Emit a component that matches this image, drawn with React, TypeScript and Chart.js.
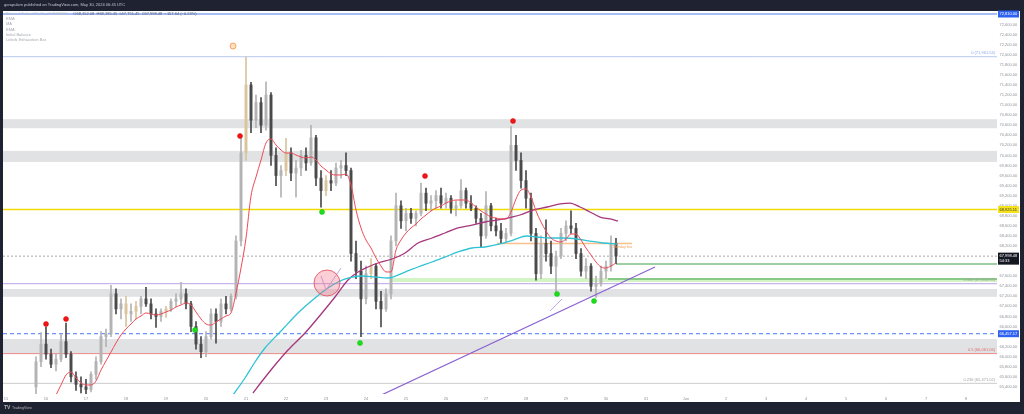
import { useEffect, useRef } from "react";
import { Chart, registerables } from "chart.js";

Chart.register(...registerables);

// ---------- axis labels ----------
const dayLabels = ["15", "16", "17", "18", "19", "20", "21", "22", "23", "24", "25", "26", "27", "28", "29", "30", "31", "Jun", "2", "3", "4", "5", "6", "7", "8"];
const priceTicks = [65400, 65600, 65800, 66000, 66200, 66600, 66800, 67000, 67200, 67400, 67600, 68200, 68400, 68600, 68800, 69000, 69200, 69400, 69600, 69800, 70000, 70200, 70400, 70600, 70800, 71000, 71200, 71400, 71600, 71800, 72000, 72200, 72400, 72600];

// ---------- candles (3h bars from May 15 18:00, x in days since May 15) ----------
const firstCandleDay = 0.75;
const candleStepDays = 0.125;
const opens = [65400, 65900, 66250, 66050, 65850, 65950, 66300, 66050, 65600, 65450, 65400, 65350, 65650, 65900, 66400, 66450, 67250, 66950, 67050, 66850, 66900, 67000, 67150, 67050, 66850, 66800, 66900, 66950, 67100, 67150, 67250, 67050, 66600, 66250, 66100, 66400, 66850, 66700, 67050, 66950, 67200, 68300, 70050, 71400, 70700, 71050, 70600, 71200, 70000, 69600, 69700, 70050, 69650, 69750, 70000, 69850, 70350, 69550, 69300, 69500, 69450, 69750, 69800, 69700, 68050, 67700, 67150, 67650, 67800, 67100, 66950, 67250, 68300, 69000, 68700, 68850, 68750, 68850, 69250, 69050, 69100, 69200, 69050, 69150, 68950, 69000, 69300, 69050, 68950, 68750, 68400, 69000, 68600, 68500, 68350, 68450, 70200, 69900, 69500, 69150, 68450, 67650, 68250, 68050, 67800, 68000, 68450, 68600, 68550, 68050, 67700, 67800, 67400, 67450, 67700, 67800, 68250];
const highs = [66000, 66480, 66590, 66150, 66050, 66450, 66670, 66100, 65700, 65600, 65550, 65700, 66000, 66500, 66550, 67420, 67350, 67150, 67200, 67050, 67100, 67200, 67380, 67150, 66950, 66950, 67000, 67150, 67250, 67480, 67350, 67100, 66700, 66400, 66500, 66950, 66950, 67150, 67200, 67250, 68400, 70350, 71960, 71450, 71200, 71150, 71460, 71250, 70150, 69800, 70340, 70150, 69900, 70100, 70150, 70600, 70400, 69700, 69600, 69700, 69850, 69900, 70050, 69750, 68300, 67900, 67800, 67950, 67850, 67300, 67350, 68400, 69250, 69100, 68950, 68950, 68900, 69450, 69350, 69200, 69300, 69350, 69250, 69200, 69100, 69520, 69350, 69200, 69000, 68850, 69280, 69050, 68750, 68650, 68550, 70580, 70400, 70050, 69700, 69250, 68550, 68400, 68720, 68300, 68100, 68550, 68700, 68900, 68650, 68150, 67950, 67850, 67600, 67800, 67900, 68400, 68350];
const lows = [65250, 65800, 65950, 65780, 65720, 65900, 65980, 65500, 65330, 65280, 65250, 65300, 65550, 65850, 66200, 66400, 66850, 66750, 66600, 66700, 66750, 66850, 67000, 66750, 66580, 66700, 66780, 66900, 67000, 67050, 66950, 66500, 66150, 65980, 66000, 66350, 66270, 66600, 66850, 66900, 67150, 68200, 69900, 70450, 70550, 70450, 70500, 69800, 69400, 69170, 69600, 69500, 69170, 69600, 69700, 69800, 69400, 68970, 69200, 69300, 69400, 69550, 69600, 67900, 67550, 66400, 67050, 67550, 66950, 66590, 66900, 67150, 68200, 68550, 68500, 68650, 68600, 68800, 68900, 68900, 68950, 68950, 68950, 68850, 68800, 68950, 68950, 68900, 68650, 68180, 68350, 68500, 68400, 68260, 68280, 68400, 69700, 69350, 68950, 68300, 67520, 67550, 67900, 67650, 67260, 67950, 68300, 68450, 67950, 67600, 67550, 67300, 67180, 67400, 67550, 67700, 67850];
const closes = [65900, 66250, 66050, 65850, 65950, 66300, 66050, 65600, 65450, 65400, 65350, 65650, 65900, 66400, 66450, 67250, 66950, 67050, 66850, 66900, 67000, 67150, 67050, 66850, 66800, 66900, 66950, 67100, 67150, 67250, 67050, 66600, 66250, 66100, 66400, 66850, 66700, 67050, 66950, 67200, 68300, 70050, 71400, 70700, 71050, 70600, 71200, 70000, 69600, 69700, 70050, 69650, 69750, 70000, 69850, 70350, 69550, 69300, 69500, 69450, 69750, 69800, 69700, 68050, 67700, 67150, 67650, 67800, 67100, 66950, 67250, 68300, 69000, 68700, 68850, 68750, 68850, 69250, 69050, 69100, 69200, 69050, 69150, 68950, 69000, 69300, 69050, 68950, 68750, 68400, 69000, 68600, 68500, 68350, 68450, 70200, 69900, 69500, 69150, 68450, 67650, 68250, 68050, 67800, 68000, 68450, 68600, 68550, 68050, 67700, 67800, 67400, 67450, 67700, 67800, 68250, 67998.48];
const exhaustionCandles = [18, 20, 26, 42, 50, 58, 67];

// ---------- moving averages ----------
const emaFast = [null, null, null, null, 65240, 65438, 65637, 65696, 65577, 65478, 65438, 65438, 65517, 65736, 65915, 66094, 66273, 66432, 66551, 66650, 66750, 66809, 66869, 66849, 66829, 66849, 66889, 66928, 66988, 67028, 67068, 67028, 66889, 66750, 66650, 66630, 66690, 66750, 66809, 66869, 67266, 67763, 68360, 69193, 69571, 69909, 70247, 70326, 70207, 70108, 70048, 70048, 70008, 69968, 69949, 69968, 69909, 69790, 69710, 69631, 69611, 69611, 69631, 69412, 68915, 68558, 68319, 68160, 67962, 67803, 67684, 67684, 68121, 68319, 68459, 68558, 68637, 68737, 68816, 68896, 68955, 68995, 69054, 69094, 69114, 69114, 69114, 69054, 68975, 68896, 68836, 68776, 68757, 68737, 68737, 68876, 69134, 69313, 69333, 69174, 68896, 68677, 68498, 68359, 68299, 68279, 68339, 68438, 68438, 68319, 68160, 68021, 67882, 67783, 67763, 67803, 67862];
const cyanDays = [5.675, 5.975, 6.225, 6.475, 6.9, 7.3, 7.725, 8.05, 8.3, 8.55, 8.9, 9.225, 9.55, 9.975, 10.3, 10.65, 10.975, 11.3, 11.65, 11.975, 12.35, 12.675, 13.025, 13.275, 13.6, 13.925, 14.275, 14.6, 14.925, 15.275];
const cyanValues = [65239, 65577, 65895, 66173, 66531, 66869, 67167, 67365, 67485, 67564, 67604, 67584, 67564, 67683, 67783, 67882, 67981, 68081, 68160, 68180, 68240, 68319, 68399, 68379, 68359, 68359, 68339, 68299, 68260, 68240];
const slowDays = [6.175, 6.425, 6.725, 7.05, 7.475, 7.9, 8.225, 8.55, 8.8, 9.05, 9.3, 9.65, 9.975, 10.3, 10.65, 10.975, 11.3, 11.65, 11.975, 12.3, 12.65, 12.85, 13.175, 13.525, 13.85, 14.1, 14.35, 14.6, 14.85, 15.1, 15.3];
const slowValues = [65279, 65537, 65835, 66134, 66471, 66869, 67187, 67524, 67683, 67783, 67862, 67942, 68061, 68260, 68359, 68458, 68558, 68617, 68677, 68717, 68776, 68816, 68915, 68975, 69035, 69054, 68975, 68876, 68776, 68737, 68697];

// ---------- exhaustion markers ----------
const redDotDays = [1.0, 1.5, 5.85, 10.475, 12.675];
const redDotPrices = [66650, 66749, 70386, 69591, 70684];
const greenDotDays = [4.725, 7.9, 8.85, 13.775, 14.7];
const greenDotPrices = [66531, 68876, 66273, 67246, 67107];

// ---------- levels, zones, drawings ----------
const topLevel = 72810;
const fibZero = 71961.54;
const fib382 = 67450.53;
const fibHalf = 66061.06;
const fibLow = 65471.02;
const yellowLevel = 68925.11;
const lastPrice = 67998.48;
const blueDashedLevel = 66457.17;
const zoneLows = [70540, 69870, 67190, 66055];
const zoneHighs = [70720, 70090, 67345, 66350];
const greenZone = [67485, 67564];
const greenZoneStartDay = 9.6;
const greenLines = [67842, 67544];
const greenLineStartDays = [15.25, 15.05];
const mondayLow = 68250;
const mondayLowDays = [12.275, 15.65];
const trendDays = [9.225, 16.225];
const trendPrices = [65180, 67783];
const circleDay = 8.025;
const circlePrice = 67465;
const vMarkDays = [7.875, 8.0, 8.375];
const vMarkPrices = [67604, 67326, 67763];
const arrowDays = [13.6, 13.9];
const arrowPrices = [66909, 67147];
const eventDay = 5.675;
const eventPrice = 72174;

const X_MIN = -0.075;
const X_MAX = 24.775;
const Y_MIN = 65259;
const Y_MAX = 72850;

const FONT = '"Liberation Sans", Arial, sans-serif';
const fmt = (v: number) => v.toLocaleString("en-US", { minimumFractionDigits: 2, maximumFractionDigits: 2 });

const candleDays = opens.map((_, i) => firstCandleDay + i * candleStepDays);
const candleColors = opens.map((o, i) =>
  exhaustionCandles.includes(i) ? "#d9c49c" : closes[i] >= o ? "#b3b3b3" : "#4a4a4a"
);

const hLine = (y: number, color: string, width = 1, dash: number[] = [], from = X_MIN, to = X_MAX) => ({
  type: "line" as const,
  data: [{ x: from, y }, { x: to, y }],
  borderColor: color,
  borderWidth: width,
  borderDash: dash,
  pointRadius: 0,
  order: 20,
});

const framePlugin = {
  id: "tvFrame",
  beforeDraw(chart: any) {
    const { ctx, width, height } = chart;
    ctx.save();
    ctx.fillStyle = "#1f2331";
    ctx.fillRect(0, 0, width, height);
    ctx.fillStyle = "#ffffff";
    ctx.fillRect(3, 11, 1017, 391);
    ctx.restore();
  },
  beforeDatasetsDraw(chart: any) {
    const { ctx, chartArea, scales } = chart;
    const x = scales.x;
    const y = scales.y;
    ctx.save();
    ctx.beginPath();
    ctx.rect(chartArea.left, chartArea.top, chartArea.right - chartArea.left, chartArea.bottom - chartArea.top);
    ctx.clip();
    ctx.fillStyle = "#e1e2e4";
    zoneLows.forEach((lo, i) => {
      const yt = y.getPixelForValue(zoneHighs[i]);
      const yb = y.getPixelForValue(lo);
      ctx.fillRect(chartArea.left, yt, chartArea.right - chartArea.left, yb - yt);
    });
    ctx.fillStyle = "#d3f4c4";
    const gx = x.getPixelForValue(greenZoneStartDay);
    const gt = y.getPixelForValue(greenZone[1]);
    const gb = y.getPixelForValue(greenZone[0]);
    ctx.fillRect(gx, gt, chartArea.right - gx, gb - gt);
    ctx.restore();
  },
  afterDraw(chart: any) {
    const { ctx, chartArea, scales } = chart;
    const x = scales.x;
    const y = scales.y;
    ctx.save();
    ctx.textBaseline = "middle";
    // header
    ctx.font = `4px ${FONT}`;
    ctx.fillStyle = "#c3c6ce";
    ctx.fillText("gorapulam published on TradingView.com, May 30, 2024 06:45 UTC", 4, 5);
    // legend
    const p1 = "Bitcoin / TetherUS, 1h, COINBASE  \u00b7  ";
    ctx.fillStyle = "#b9bcc3";
    ctx.fillText(p1, 6, 13.5);
    const w1 = ctx.measureText(p1).width;
    ctx.fillStyle = "#5a5d65";
    ctx.fillText("O68,152.08  H68,185.45  L67,751.45  C67,998.48  \u2212157.64 (\u22120.23%)", 6 + w1, 13.5);
    ctx.fillStyle = "#a6a9b0";
    ["EMA", "MA", "EMA", "Initial Balance", "Leledc Exhaustion Bar"].forEach((t, i) => {
      ctx.fillText(t, 6, 19 + i * 5.2);
    });
    // fib labels
    ctx.textAlign = "right";
    const fibText: [number, string, string][] = [
      [fibZero, `0 (${fmt(fibZero)})`, "#8ea6ec"],
      [fib382, `0.382 (${fmt(fib382)})`, "#9fa69f"],
      [fibHalf, `0.5 (${fmt(fibHalf)})`, "#e06c6c"],
      [fibLow, `0.236 (${fmt(fibLow)})`, "#a2a2a2"],
    ];
    fibText.forEach(([v, t, c]) => {
      ctx.fillStyle = c;
      ctx.fillText(t, chartArea.right - 2, y.getPixelForValue(v) - 3.5);
    });
    ctx.textAlign = "left";
    ctx.fillStyle = "#f2a35e";
    ctx.font = `3.6px ${FONT}`;
    ctx.fillText("Monday low", x.getPixelForValue(mondayLowDays[1]) - 19, y.getPixelForValue(mondayLow) + 3.5);
    // price axis badges
    ctx.font = `4px ${FONT}`;
    const bx = chartArea.right + 1;
    const bw = 21;
    const badge = (v: number, bg: string, fg: string, sub?: string) => {
      const py = y.getPixelForValue(v);
      const h = sub ? 12 : 7;
      const top = py - 3.5;
      ctx.fillStyle = bg;
      ctx.fillRect(bx, top, bw, h);
      ctx.fillStyle = fg;
      ctx.fillText(fmt(v), bx + 1.5, py);
      if (sub) ctx.fillText(sub, bx + 1.5, py + 5);
    };
    badge(topLevel, "#2f62f0", "#ffffff");
    badge(yellowLevel, "#f5e21c", "#333333");
    badge(blueDashedLevel, "#2f62f0", "#ffffff");
    badge(lastPrice, "#131722", "#ffffff", "54:33");
    // bottom logo
    ctx.fillStyle = "#b2b5be";
    ctx.font = `bold 5px ${FONT}`;
    ctx.fillText("TV", 4, 408);
    ctx.font = `3.6px ${FONT}`;
    ctx.fillText("TradingView", 12, 408);
    ctx.restore();
  },
};

export default function App() {
  const ref = useRef<HTMLCanvasElement>(null);
  useEffect(() => {
    const datasets: any[] = [
      hLine(topLevel, "#4f7cf2", 1.2),
      hLine(fibZero, "#b8c7f2", 1),
      hLine(yellowLevel, "#f0dc00", 1.5),
      hLine(lastPrice, "#a8a8a8", 1, [2, 2]),
      hLine(fib382, "#b9a4e6", 1),
      hLine(blueDashedLevel, "#4a78f2", 1, [4, 3]),
      hLine(fibHalf, "#f08888", 1),
      hLine(fibLow, "#cccccc", 1),
      hLine(greenLines[0], "#3f9f48", 1.2, [], greenLineStartDays[0]),
      hLine(greenLines[1], "#3f9f48", 1.2, [], greenLineStartDays[1]),
      hLine(mondayLow, "#f8c08c", 1.5, [], mondayLowDays[0], mondayLowDays[1]),
      {
        type: "line",
        data: trendDays.map((d, i) => ({ x: d, y: trendPrices[i] })),
        borderColor: "#8a63d2",
        borderWidth: 1.2,
        pointRadius: 0,
        order: 4,
      },
      {
        type: "bar",
        data: candleDays.map((d, i) => ({ x: d, y: [lows[i], highs[i]] })),
        backgroundColor: candleColors,
        barThickness: 1,
        grouped: false,
        order: 7,
      },
      {
        type: "bar",
        data: candleDays.map((d, i) => ({ x: d, y: [opens[i], closes[i]] })),
        backgroundColor: candleColors,
        barThickness: 2.3,
        grouped: false,
        order: 6,
      },
      {
        type: "line",
        data: cyanDays.map((d, i) => ({ x: d, y: cyanValues[i] })),
        borderColor: "#2fc3d6",
        borderWidth: 1.3,
        pointRadius: 0,
        cubicInterpolationMode: "monotone",
        order: 3,
      },
      {
        type: "line",
        data: slowDays.map((d, i) => ({ x: d, y: slowValues[i] })),
        borderColor: "#a5357c",
        borderWidth: 1.3,
        pointRadius: 0,
        cubicInterpolationMode: "monotone",
        order: 3,
      },
      {
        type: "line",
        data: candleDays.map((d, i) => ({ x: d, y: emaFast[i] })),
        borderColor: "#ee4a56",
        borderWidth: 1,
        pointRadius: 0,
        cubicInterpolationMode: "monotone",
        order: 2,
      },
      {
        type: "line",
        data: [{ x: circleDay, y: circlePrice }],
        showLine: false,
        pointRadius: 13,
        pointBackgroundColor: "rgba(240,110,130,0.33)",
        pointBorderColor: "rgba(228,80,100,0.85)",
        pointBorderWidth: 1,
        order: 1,
      },
      {
        type: "line",
        data: vMarkDays.map((d, i) => ({ x: d, y: vMarkPrices[i] })),
        borderColor: "#c6a8ea",
        borderWidth: 1,
        pointRadius: 0,
        order: 1,
      },
      {
        type: "line",
        data: arrowDays.map((d, i) => ({ x: d, y: arrowPrices[i] })),
        borderColor: "#c6a8ea",
        borderWidth: 1,
        pointRadius: 0,
        order: 1,
      },
      {
        type: "line",
        data: [{ x: eventDay, y: eventPrice }],
        showLine: false,
        pointRadius: 3,
        pointBackgroundColor: "#fde0c2",
        pointBorderColor: "#f4a65c",
        pointBorderWidth: 1,
        order: 0,
      },
      {
        type: "line",
        data: redDotDays.map((d, i) => ({ x: d, y: redDotPrices[i] })),
        showLine: false,
        pointRadius: 2.5,
        pointBackgroundColor: "#f01515",
        pointBorderColor: "#d40f0f",
        pointBorderWidth: 0.5,
        order: 0,
      },
      {
        type: "line",
        data: greenDotDays.map((d, i) => ({ x: d, y: greenDotPrices[i] })),
        showLine: false,
        pointRadius: 2.5,
        pointBackgroundColor: "#19e019",
        pointBorderColor: "#10b810",
        pointBorderWidth: 0.5,
        order: 0,
      },
    ];

    const chart = new Chart(ref.current as HTMLCanvasElement, {
      type: "bar",
      data: { datasets },
      options: {
        responsive: false,
        animation: false,
        events: [],
        layout: { autoPadding: false, padding: { left: 3, right: 4, top: 12, bottom: 12 } },
        plugins: { legend: { display: false }, tooltip: { enabled: false } },
        scales: {
          x: {
            type: "linear",
            min: X_MIN,
            max: X_MAX,
            offset: false,
            grid: { display: false, drawTicks: false },
            border: { display: false },
            afterBuildTicks: (s: any) => {
              s.ticks = dayLabels.map((_, i) => ({ value: i }));
            },
            afterFit: (s: any) => {
              s.height = 8;
            },
            ticks: {
              autoSkip: false,
              maxRotation: 0,
              padding: 2,
              color: "#8f939b",
              font: { size: 4, family: FONT },
              callback: (v: any) => dayLabels[v as number] ?? "",
            },
          },
          y: {
            position: "right",
            min: Y_MIN,
            max: Y_MAX,
            grid: { display: false, drawTicks: false },
            border: { display: false },
            afterBuildTicks: (s: any) => {
              s.ticks = priceTicks.map((v) => ({ value: v }));
            },
            afterFit: (s: any) => {
              s.width = 23;
            },
            ticks: {
              autoSkip: false,
              padding: 2.5,
              color: "#8f939b",
              font: { size: 4, family: FONT },
              callback: (v: any) => fmt(v as number),
            },
          },
        },
      } as any,
      plugins: [framePlugin],
    });
    return () => chart.destroy();
  }, []);

  return (
    <div style={{ position: "absolute", left: 0, top: 0, width: 1024, height: 414, background: "#1f2331" }}>
      <canvas ref={ref} width={1024} height={414} style={{ display: "block", width: 1024, height: 414 }} />
    </div>
  );
}
